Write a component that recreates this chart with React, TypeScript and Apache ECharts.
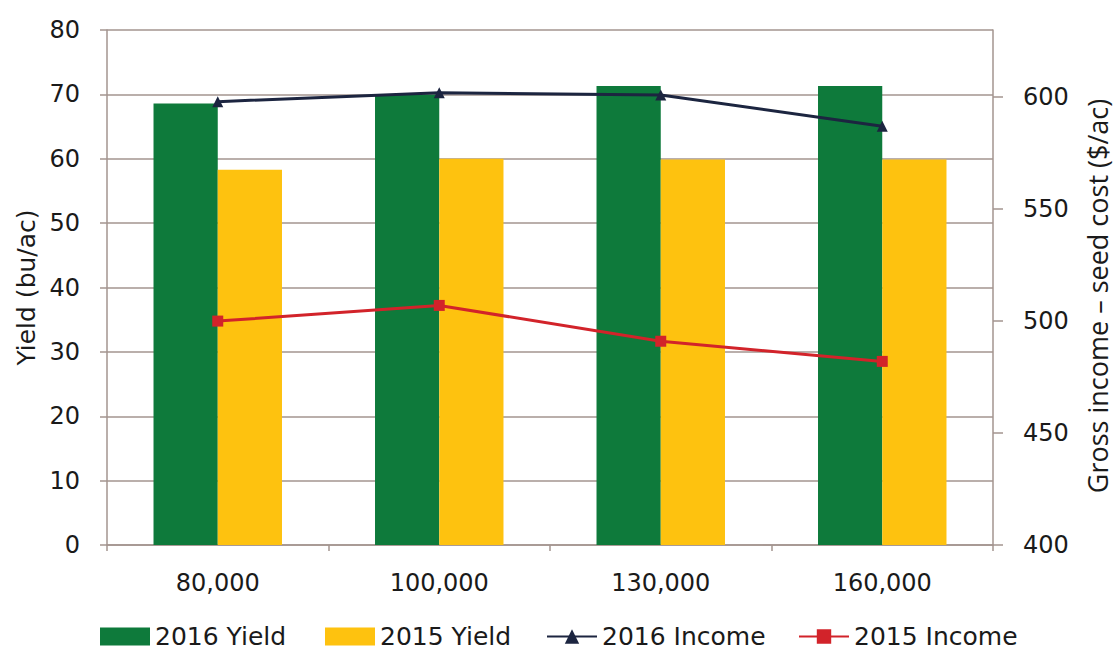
import React, { useEffect, useRef } from "react";
import * as echarts from "echarts";

// Seeding rate categories (seeds/ac)
const categories = ["80,000", "100,000", "130,000", "160,000"];

// Yield (bu/ac)
const yield2016 = [68.6, 70.0, 71.3, 71.3];
const yield2015 = [58.3, 60.0, 59.9, 59.9];

// Gross income minus seed cost ($/ac)
const income2016 = [598, 602, 601, 587];
const income2015 = [500, 507, 491, 482];

// Right-axis tick labels
const incomeTicks = [400, 450, 500, 550, 600];

const FONT = "DejaVu Sans";
const TEXT = "#1a1a1a";
const AXIS = "#a3948f";
const GREEN = "#0e7a3b";
const GOLD = "#fec20f";
const NAVY = "#1c2540";
const RED = "#d2232a";

// One legend block per series so each entry sits in its own slot
const legendSlots = [
  { name: "2016 Yield", left: 100, icon: "rect" },
  { name: "2015 Yield", left: 325, icon: "rect" },
  { name: "2016 Income", left: 546 },
  { name: "2015 Income", left: 798 },
];

export default function App() {
  const ref = useRef<HTMLDivElement>(null);

  useEffect(() => {
    if (!ref.current) return;
    const chart = echarts.init(ref.current, null, { renderer: "svg" });
    chart.setOption({
      animation: false,
      backgroundColor: "#ffffff",
      textStyle: { fontFamily: FONT, color: TEXT },
      grid: { left: 107, right: 122, top: 30, bottom: 106, containLabel: false },
      legend: legendSlots.map((s) => ({
        left: s.left,
        top: 624,
        padding: 0,
        itemGap: 0,
        itemWidth: 50,
        itemHeight: 18,
        textStyle: {
          fontFamily: FONT,
          fontSize: 25,
          lineHeight: 24,
          color: TEXT,
          padding: [0, 0, 0, 0],
        },
        data: [s.icon ? { name: s.name, icon: s.icon } : { name: s.name }],
      })),
      graphic: [
        {
          type: "text",
          x: 1097,
          y: 296,
          rotation: Math.PI / 2,
          style: {
            text: "Gross income \u2013 seed cost ($/ac)",
            fontFamily: "Open Sans",
            fontSize: 27,
            fill: TEXT,
            align: "center",
            verticalAlign: "middle",
          },
        },
      ],
      xAxis: {
        type: "category",
        data: categories,
        axisLine: { lineStyle: { color: AXIS, width: 1.5 } },
        axisTick: { show: true, length: 6, lineStyle: { color: AXIS, width: 1.5 } },
        axisLabel: { margin: 26, fontSize: 24, color: TEXT, fontFamily: FONT },
      },
      yAxis: [
        {
          type: "value",
          min: 0,
          max: 80,
          interval: 10,
          name: "Yield (bu/ac)",
          nameLocation: "middle",
          nameRotate: 90,
          nameGap: 63,
          nameTextStyle: { fontSize: 25, color: TEXT, fontFamily: FONT },
          axisLine: { show: true, lineStyle: { color: AXIS, width: 1.5 } },
          axisTick: { show: true, length: 7, lineStyle: { color: AXIS, width: 1.5 } },
          axisLabel: { margin: 27, fontSize: 24, color: TEXT, fontFamily: FONT },
          splitLine: { show: true, lineStyle: { color: AXIS, width: 1.5 } },
        },
        {
          type: "value",
          min: 400,
          max: 630,
          interval: 50,
          position: "right",
          axisLine: { show: true, lineStyle: { color: AXIS, width: 1.5 } },
          axisTick: {
            show: true,
            length: 10,
            customValues: incomeTicks,
            lineStyle: { color: AXIS, width: 1.5 },
          },
          axisLabel: {
            margin: 30,
            fontSize: 24,
            color: TEXT,
            fontFamily: FONT,
            customValues: incomeTicks,
          },
          splitLine: { show: false },
        },
      ],
      series: [
        {
          name: "2016 Yield",
          type: "bar",
          yAxisIndex: 0,
          data: yield2016,
          itemStyle: { color: GREEN },
          barGap: "0%",
          barCategoryGap: "42%",
        },
        {
          name: "2015 Yield",
          type: "bar",
          yAxisIndex: 0,
          data: yield2015,
          itemStyle: { color: GOLD },
        },
        {
          name: "2016 Income",
          type: "line",
          yAxisIndex: 1,
          data: income2016,
          symbol: "triangle",
          symbolSize: 11,
          lineStyle: { color: NAVY, width: 3 },
          itemStyle: { color: NAVY },
          z: 5,
        },
        {
          name: "2015 Income",
          type: "line",
          yAxisIndex: 1,
          data: income2015,
          symbol: "rect",
          symbolSize: 11,
          lineStyle: { color: RED, width: 3 },
          itemStyle: { color: RED },
          z: 5,
        },
      ],
    });
    return () => chart.dispose();
  }, []);

  return <div ref={ref} style={{ width: 1115, height: 651, position: "absolute", left: 0, top: 0 }} />;
}
